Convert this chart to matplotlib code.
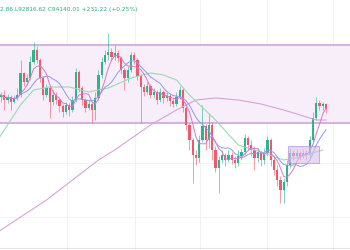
import matplotlib
matplotlib.use("Agg")
import matplotlib.pyplot as plt
from matplotlib.patches import Rectangle
import pandas as pd

# candles, open = previous close
first_open = 94580
close = [94660, 94460, 94580, 94380, 94540, 94660, 95540, 95180, 95340, 95980,
         96460, 96060, 95340, 94660, 94940, 94380, 94660, 94460, 94220, 93980,
         94260, 94060, 94460, 95580, 94940, 94460, 94140, 94300, 94060, 94540,
         95460, 95980, 96260, 96380, 96180, 96340, 96140, 95660, 95340, 95660,
         96260, 96060, 95420, 94980, 94780, 95020, 94660, 94780, 94460, 94780,
         94540, 94620, 94420, 94300, 94580, 94860, 94140, 93460, 92860, 92260,
         92140, 92860, 93420, 92860, 93460, 92460, 91740, 92060, 92260, 92060,
         92260, 92060, 91940, 92220, 92380, 92940, 92660, 92460, 92140, 92380,
         92060, 92340, 92860, 92060, 91660, 91260, 90860, 91180, 91860, 92340,
         92220, 92340, 92220, 92340, 92260, 92860, 93740, 94340, 94220, 94300,
         94100]
high = [94780, 94860, 94700, 94660, 94660, 94940, 96060, 95580, 95500, 96220,
        96780, 96620, 96140, 95420, 95100, 95020, 94860, 94780, 94540, 94300,
        94380, 94340, 94620, 95740, 95660, 95020, 94540, 94460, 94380, 94780,
        95660, 96180, 96460, 97140, 96540, 96660, 96460, 96220, 95740, 95820,
        96380, 96380, 96140, 95500, 95100, 95180, 95100, 94940, 94860, 94940,
        94860, 94780, 94700, 94540, 94780, 95020, 94940, 94220, 93540, 92940,
        92460, 93060, 94260, 93500, 93940, 93580, 92620, 92220, 92460, 92340,
        92460, 92380, 92220, 92460, 92540, 93100, 93020, 92860, 92620, 92540,
        92460, 92540, 93020, 92940, 92220, 91860, 91420, 91340, 92060, 92540,
        92460, 92500, 92420, 92500, 92460, 93020, 93980, 94580, 94460, 94380,
        94340]
low = [94380, 94060, 94340, 94060, 94340, 94460, 94580, 95020, 95060, 95260,
       95900, 95940, 95180, 94460, 94580, 93740, 94260, 94300, 93980, 93780,
       93900, 93820, 93980, 94380, 94780, 94260, 93980, 94060, 93540, 93660,
       94460, 95340, 95900, 96060, 96060, 96060, 95980, 95500, 94860, 95180,
       95580, 95900, 95260, 93540, 94620, 94700, 94540, 94540, 94300, 94380,
       94340, 94420, 94220, 94180, 94220, 94500, 93980, 93260, 92460, 91140,
       91860, 91980, 92780, 92460, 92540, 92060, 91580, 90740, 91940, 91820,
       91980, 91900, 91740, 91820, 92060, 92260, 92460, 92220, 91660, 91980,
       91820, 91900, 92220, 91820, 91460, 91020, 90340, 90340, 91020, 91740,
       92060, 92140, 92060, 92140, 92060, 92180, 92780, 93660, 94060, 94060,
       93940]

# slow averages (candle index, price)
ma_mid_idx = [-1, 2, 6, 10, 15, 21, 27, 33, 40, 46, 50, 54, 58, 66, 73, 80, 87, 92, 99]
ma_mid_val = [92860, 93460, 94260, 94860, 94980, 94980, 94780, 94940, 95340, 95540,
              95460, 95260, 94660, 93660, 92660, 92380, 92060, 92180, 92460]
ma_long_idx = [-1, 14, 30, 35, 46, 54, 60, 66, 73, 80, 87, 94, 97, 100]
ma_long_val = [89180, 90460, 92060, 92460, 93460, 94060, 94460, 94540, 94460, 94300,
               94060, 93780, 93660, 93660]

range_top, range_bottom = 96660, 93540
box_left, box_right = 88.3, 97.8
box_top, box_bottom = 92620, 91940
header = "2.86 L92816.62 C94140.01 +231.22 (+0.25%)"

up_col = "#2fb38c"
down_col = "#f0596b"

df = pd.DataFrame({"close": close, "high": high, "low": low})
df["open"] = df["close"].shift(1).fillna(first_open)
df["fast"] = df["close"].rolling(5, min_periods=1).mean()
df["slow"] = df["close"].rolling(10, min_periods=1).mean()
up = df["close"] >= df["open"]
colors = [up_col if u else down_col for u in up]

fig = plt.figure(figsize=(3.5, 2.5), dpi=100)
ax = fig.add_axes([0, 0, 1, 1])
ax.set_xlim(-0.31, 107.4)
ax.set_ylim(88460, 98460)
ax.axis("off")

# grid
for gx in [20.3, 41.2, 61.2, 81.8, 102.2]:
    ax.axvline(gx, color="#eef0f4", lw=0.6, zorder=0)
for gy in [96300, 91940, 89780]:
    ax.axhline(gy, color="#eef0f4", lw=0.6, zorder=0)
ax.axhline(94140, color="#dde6ee", lw=0.7, zorder=0)
ax.axhline(88540, color="#e4e4e4", lw=0.8, zorder=0)

# range zone
ax.add_patch(Rectangle((-5, range_bottom), 120, range_top - range_bottom,
                       facecolor="#f8eef9", edgecolor="#c89fd8", lw=1.1, zorder=1))

# candles
ax.vlines(df.index, df["low"], df["high"], colors=colors, lw=0.6, alpha=0.7, zorder=3)
ax.bar(df.index, (df["close"] - df["open"]).abs().clip(lower=25),
       bottom=df[["open", "close"]].min(axis=1), width=0.68, color=colors, zorder=4)

# moving averages
ax.plot(ma_long_idx, ma_long_val, color="#d8a3d4", lw=0.8, zorder=5)
ax.plot(ma_mid_idx, ma_mid_val, color="#98dbb1", lw=0.8, zorder=5)
ax.plot(df.index, df["slow"], color="#8a9cf0", lw=0.7, zorder=5)
ax.plot(df.index, df["fast"], color="#d777d0", lw=0.7, zorder=5)

# accumulation box
ax.add_patch(Rectangle((box_left, box_bottom), box_right - box_left, box_top - box_bottom,
                       facecolor="#d6bff0", edgecolor="#b084d4", alpha=0.6, lw=0.8, zorder=6))

fig.text(0.0, 0.96, header, fontsize=4.2, color="#2ea985", va="center", ha="left")

fig.savefig("out.png", dpi=100)
